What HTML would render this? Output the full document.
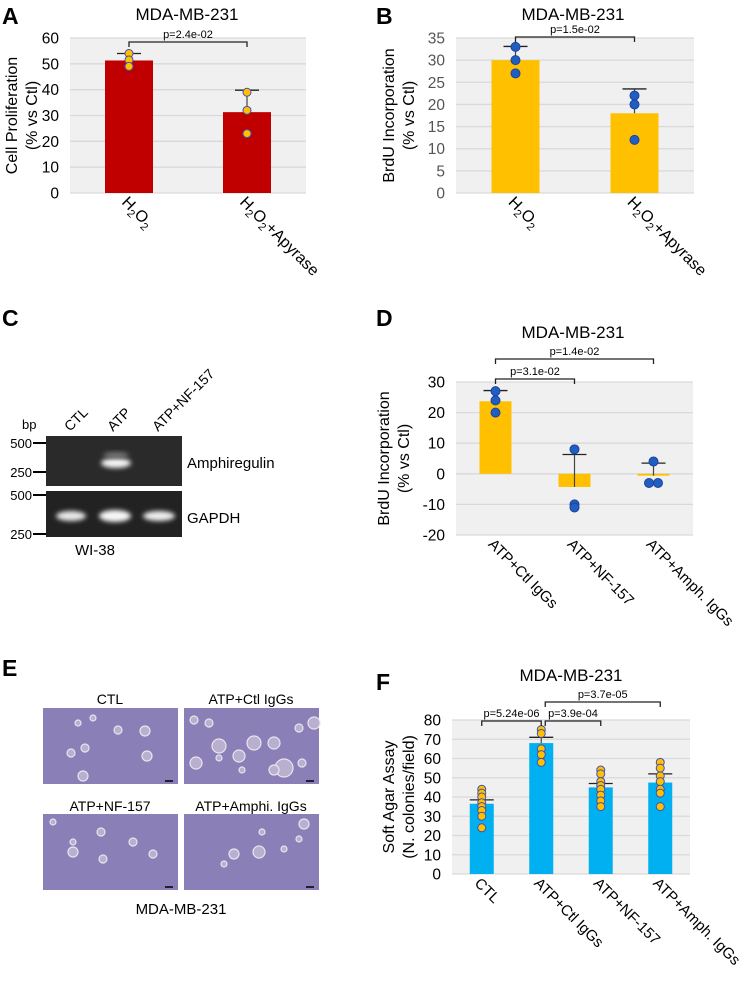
<!DOCTYPE html>
<html><head><meta charset="utf-8"><style>
body{margin:0;background:#fff;width:748px;height:982px;overflow:hidden}
svg{font-family:"Liberation Sans",Arial,sans-serif}
</style></head><body>
<svg id="fig" width="748" height="982" viewBox="0 0 748 982" xmlns="http://www.w3.org/2000/svg">
<g font-weight="bold" font-size="23">
<text x="2" y="24">A</text>
<text x="376" y="24">B</text>
<text x="2" y="326">C</text>
<text x="376" y="326">D</text>
<text x="2" y="676">E</text>
<text x="376" y="690">F</text>
</g>
<g>
<defs>
<filter id="blur" x="-50%" y="-50%" width="200%" height="200%"><feGaussianBlur stdDeviation="2.5"/></filter>
</defs>
<text x="22" y="429" font-size="13">bp</text>
<rect x="46" y="436" width="136" height="50" fill="#2a2a2a"/>
<rect x="46" y="491" width="136" height="46" fill="#222"/>
<ellipse cx="116" cy="463" rx="15" ry="5" fill="#f4f4f4" filter="url(#blur)"/>
<ellipse cx="116" cy="455" rx="13" ry="3" fill="#777" filter="url(#blur)"/>
<ellipse cx="71" cy="516" rx="15" ry="5" fill="#e8e8e8" filter="url(#blur)"/>
<ellipse cx="115" cy="516" rx="16" ry="6" fill="#f6f6f6" filter="url(#blur)"/>
<ellipse cx="159" cy="516" rx="16" ry="5" fill="#eee" filter="url(#blur)"/>
<g font-size="13" text-anchor="end">
<text x="32" y="448">500</text><line x1="33" y1="443" x2="46" y2="443" stroke="#000" stroke-width="2"/>
<text x="32" y="477">250</text><line x1="33" y1="472" x2="46" y2="472" stroke="#000" stroke-width="2"/>
<text x="32" y="500">500</text><line x1="33" y1="495" x2="46" y2="495" stroke="#000" stroke-width="2"/>
<text x="32" y="539">250</text><line x1="33" y1="534" x2="46" y2="534" stroke="#000" stroke-width="2"/>
</g>
<g font-size="14">
<text transform="translate(70,432) rotate(-45)">CTL</text>
<text transform="translate(113,432) rotate(-45)">ATP</text>
<text transform="translate(158,432) rotate(-45)">ATP+NF-157</text>
<text x="187" y="468" font-size="15">Amphiregulin</text>
<text x="187" y="523" font-size="15">GAPDH</text>
<text x="95" y="555" font-size="15" text-anchor="middle">WI-38</text>
</g>
</g>
<g font-size="14" text-anchor="middle">
<text x="110" y="704">CTL</text>
<text x="251" y="704">ATP+Ctl IgGs</text>
<text x="110" y="811">ATP+NF-157</text>
<text x="251" y="811">ATP+Amphi. IgGs</text>
<text x="181" y="914" font-size="15">MDA-MB-231</text>
<g id="micro"></g>
</g>
<g id="charts"></g>
</svg>
<script>
// ---- Chart A data ----
const aCats = ["H2O2", "H2O2+Apyrase"];
const aMeans = [51.3, 31.3];
const aErr = [54, 39.8];
const aDots = [[54, 51.5, 49], [39, 32, 23]];
const aTicks = [0, 10, 20, 30, 40, 50, 60];
// ---- Chart B data ----
const bCats = ["H2O2", "H2O2+Apyrase"];
const bMeans = [30, 18];
const bErr = [33.1, 23.5];
const bDots = [[33, 30, 27], [22, 20, 12]];
const bTicks = [0, 5, 10, 15, 20, 25, 30, 35];
// ---- Chart D data ----
const dCats = ["ATP+Ctl IgGs", "ATP+NF-157", "ATP+Amph. IgGs"];
const dMeans = [23.7, -4.3, -0.6];
const dErr = [27.2, 6.3, 3.5];
const dDots = [[27, 24, 20], [8, -10, -11], [4, -3, -3]];
const dTicks = [-20, -10, 0, 10, 20, 30];
// ---- Chart F data ----
const fCats = ["CTL", "ATP+Ctl IgGs", "ATP+NF-157", "ATP+Amph. IgGs"];
const fMeans = [36.5, 68, 45, 47.5];
const fErr = [38.5, 71, 47, 52];
const fDots = [[44, 42, 40, 37, 35, 33, 30, 24], [75, 73, 65, 62, 58], [54, 52, 48, 46, 44, 41, 38, 35], [58, 55, 51, 48, 44, 42, 35]];
const fTicks = [0, 10, 20, 30, 40, 50, 60, 70, 80];

const NS = "http://www.w3.org/2000/svg";
function mk(tag, attrs, parent) {
  const e = document.createElementNS(NS, tag);
  for (const k in attrs) e.setAttribute(k, attrs[k]);
  parent.appendChild(e);
  return e;
}
function subLabel(t, parent) {
  if (t.startsWith("H2O2")) {
    const parts = [["H", 0], ["2", 4], ["O", -4], ["2", 4]];
    parts.forEach(p => {
      const s = mk("tspan", p[1] > 0 ? {dy: p[1], "font-size": 11} : (p[1] < 0 ? {dy: p[1]} : {}), parent);
      s.textContent = p[0];
    });
    if (t.length > 4) { const s = mk("tspan", {dy: -4}, parent); s.textContent = t.slice(4); }
  } else parent.textContent = t;
}
function chart(cfg) {
  const root = document.getElementById("charts");
  const g = mk("g", {}, root);
  
  
  const t0 = cfg.ticks[0], t1 = cfg.ticks[cfg.ticks.length - 1];
  const yy = v => cfg.y1 - (v - t0) / (t1 - t0) * (cfg.y1 - cfg.y0);
  const n = cfg.cats.length, bw = (cfg.x1 - cfg.x0) / n;
  const x = i => cfg.x0 + bw * (i + 0.5);
  mk("rect", {x: cfg.x0, y: cfg.y0, width: cfg.x1 - cfg.x0, height: cfg.y1 - cfg.y0, fill: "#f0f0f0"}, g);
  cfg.ticks.forEach(tv => {
    mk("line", {x1: cfg.x0, x2: cfg.x1, y1: yy(tv), y2: yy(tv), stroke: "#d9d9d9", "stroke-width": 1.3}, g);
    const tx = mk("text", {x: cfg.x0 - 11, y: yy(tv) + 5.5, "font-size": 15.5, "text-anchor": "end", fill: cfg.tickColor || "#000"}, g);
    tx.textContent = tv;
  });
  const base = yy(Math.max(0, t0));
  cfg.means.forEach((m, i) => {
    const top = Math.min(yy(m), base), h = Math.abs(yy(m) - base);
    const b = mk("rect", {x: x(i) - cfg.barW / 2, y: top, width: cfg.barW, height: h, fill: cfg.color}, g);
    
    
    mk("line", {x1: x(i), x2: x(i), y1: yy(m), y2: yy(cfg.err[i]), stroke: "#444", "stroke-width": 1.2}, g);
    mk("line", {x1: x(i) - 12, x2: x(i) + 12, y1: yy(cfg.err[i]), y2: yy(cfg.err[i]), stroke: "#222", "stroke-width": 1.3}, g);
    const counts = {};
    cfg.dots[i].forEach(v => { const k = Math.round(v); counts[k] = (counts[k] || 0) + 1; });
    const seen = {};
    cfg.dots[i].forEach(v => {
      const k = Math.round(v); seen[k] = (seen[k] || 0) + 1;
      const off = counts[k] > 1 ? (seen[k] - (counts[k] + 1) / 2) * 9 : 0;
      const c = mk("circle", {cx: x(i) + off, cy: yy(v), r: cfg.r, fill: cfg.dotFill, stroke: cfg.dotStroke, "stroke-width": 1}, g);
      
      
    });
    const lt = mk("text", {transform: `translate(${x(i) - 8},${cfg.y1 + 10}) rotate(45)`, "font-size": cfg.xFont || 16}, g);
    
    
    subLabel(cfg.cats[i], lt);
  });
  const ti = mk("text", {x: cfg.titleX, y: cfg.titleY, "font-size": 17, "text-anchor": "middle"}, g);
  
  
  ti.textContent = "MDA-MB-231";
  cfg.yTitle.forEach((s, k) => {
    const yt = mk("text", {transform: `translate(${cfg.yTitleX + k * 20},${(cfg.y0 + cfg.y1) / 2}) rotate(-90)`, "font-size": 16, "text-anchor": "middle"}, g);
    
    
    yt.textContent = s;
  });
  cfg.brackets.forEach(bk => {
    const xa = x(bk[0]) + (bk[4] || 0), xb = x(bk[1]);
    mk("path", {d: `M${xa},${bk[2] + 5}V${bk[2]}H${xb}V${bk[2] + 5}`, fill: "none", stroke: "#222", "stroke-width": 1.3}, g);
    const pt = mk("text", {x: (xa + xb) / 2, y: bk[2] - 4, "font-size": 11, "text-anchor": "middle"}, g);
    
    
    pt.textContent = bk[3];
  });
}
chart({name: "chart-a", cats: aCats, means: aMeans, err: aErr, dots: aDots, ticks: aTicks, x0: 70, x1: 306, y0: 38, y1: 193, barW: 48, color: "#c00000", dotFill: "#ffc000", dotStroke: "#4450b0", r: 4, titleX: 187, titleY: 20, yTitle: ["Cell Proliferation", "(% vs Ctl)"], yTitleX: 17, brackets: [[0, 1, 42, "p=2.4e-02"]]});
chart({name: "chart-b", cats: bCats, means: bMeans, err: bErr, dots: bDots, ticks: bTicks, x0: 456, x1: 694, y0: 38, y1: 193, barW: 48, color: "#ffc000", dotFill: "#1f5fbf", dotStroke: "#2040a0", r: 4.5, titleX: 573, titleY: 20, yTitle: ["BrdU Incorporation", "(% vs Ctl)"], yTitleX: 394, tickColor: "#555", brackets: [[0, 1, 37, "p=1.5e-02"]]});
chart({name: "chart-d", cats: dCats, means: dMeans, err: dErr, dots: dDots, ticks: dTicks, x0: 456, x1: 693, y0: 382, y1: 535, barW: 32, color: "#ffc000", dotFill: "#1f5fbf", dotStroke: "#2040a0", r: 4.5, titleX: 573, titleY: 338, yTitle: ["BrdU Incorporation", "(% vs Ctl)"], yTitleX: 389, xFont: 15, brackets: [[0, 2, 359, "p=1.4e-02"], [0, 1, 379, "p=3.1e-02"]]});
chart({name: "chart-f", cats: fCats, means: fMeans, err: fErr, dots: fDots, ticks: fTicks, x0: 452, x1: 690, y0: 720, y1: 874, barW: 24, color: "#00b0f0", dotFill: "#ffc000", dotStroke: "#4450b0", r: 4, titleX: 571, titleY: 681, yTitle: ["Soft Agar Assay", "(N. colonies/field)"], yTitleX: 394, xFont: 15, brackets: [[0, 1, 721, "p=5.24e-06"], [1, 2, 721, "p=3.9e-04", 4], [1, 3, 702, "p=3.7e-05", 4]]});

const micro = document.getElementById("micro");
const panels = [[43, 708], [184, 708], [43, 814], [184, 814]];
const colonies = [
  [[35,15,3],[50,10,3],[42,40,4],[75,22,4],[102,23,5],[28,45,4],[40,68,5],[104,48,5]],
  [[10,12,4],[25,15,4],[35,38,7],[55,48,6],[70,35,7],[90,35,6],[100,60,9],[115,20,4],[12,55,6],[90,62,5],[35,50,3],[118,55,4],[130,15,6],[58,62,3]],
  [[10,8,3],[58,18,4],[30,28,3],[90,28,4],[30,38,5],[110,40,4],[60,45,4]],
  [[120,10,5],[78,18,3],[115,25,3],[50,40,5],[75,38,6],[100,35,3],[40,50,3]]
];
panels.forEach((p, i) => {
  const r = mk("rect", {x: p[0], y: p[1], width: 135, height: 76, fill: "#8a7fb6"}, micro);
  
  
  colonies[i].forEach(c => {
    mk("circle", {cx: p[0] + c[0], cy: p[1] + c[1], r: c[2], fill: "#b9b0cf", stroke: "#e8e4f0", "stroke-width": 1.2}, micro);
  });
  mk("line", {x1: p[0] + 122, x2: p[0] + 130, y1: p[1] + 73, y2: p[1] + 73, stroke: "#000", "stroke-width": 1.5}, micro);
});
</script>
</body></html>
